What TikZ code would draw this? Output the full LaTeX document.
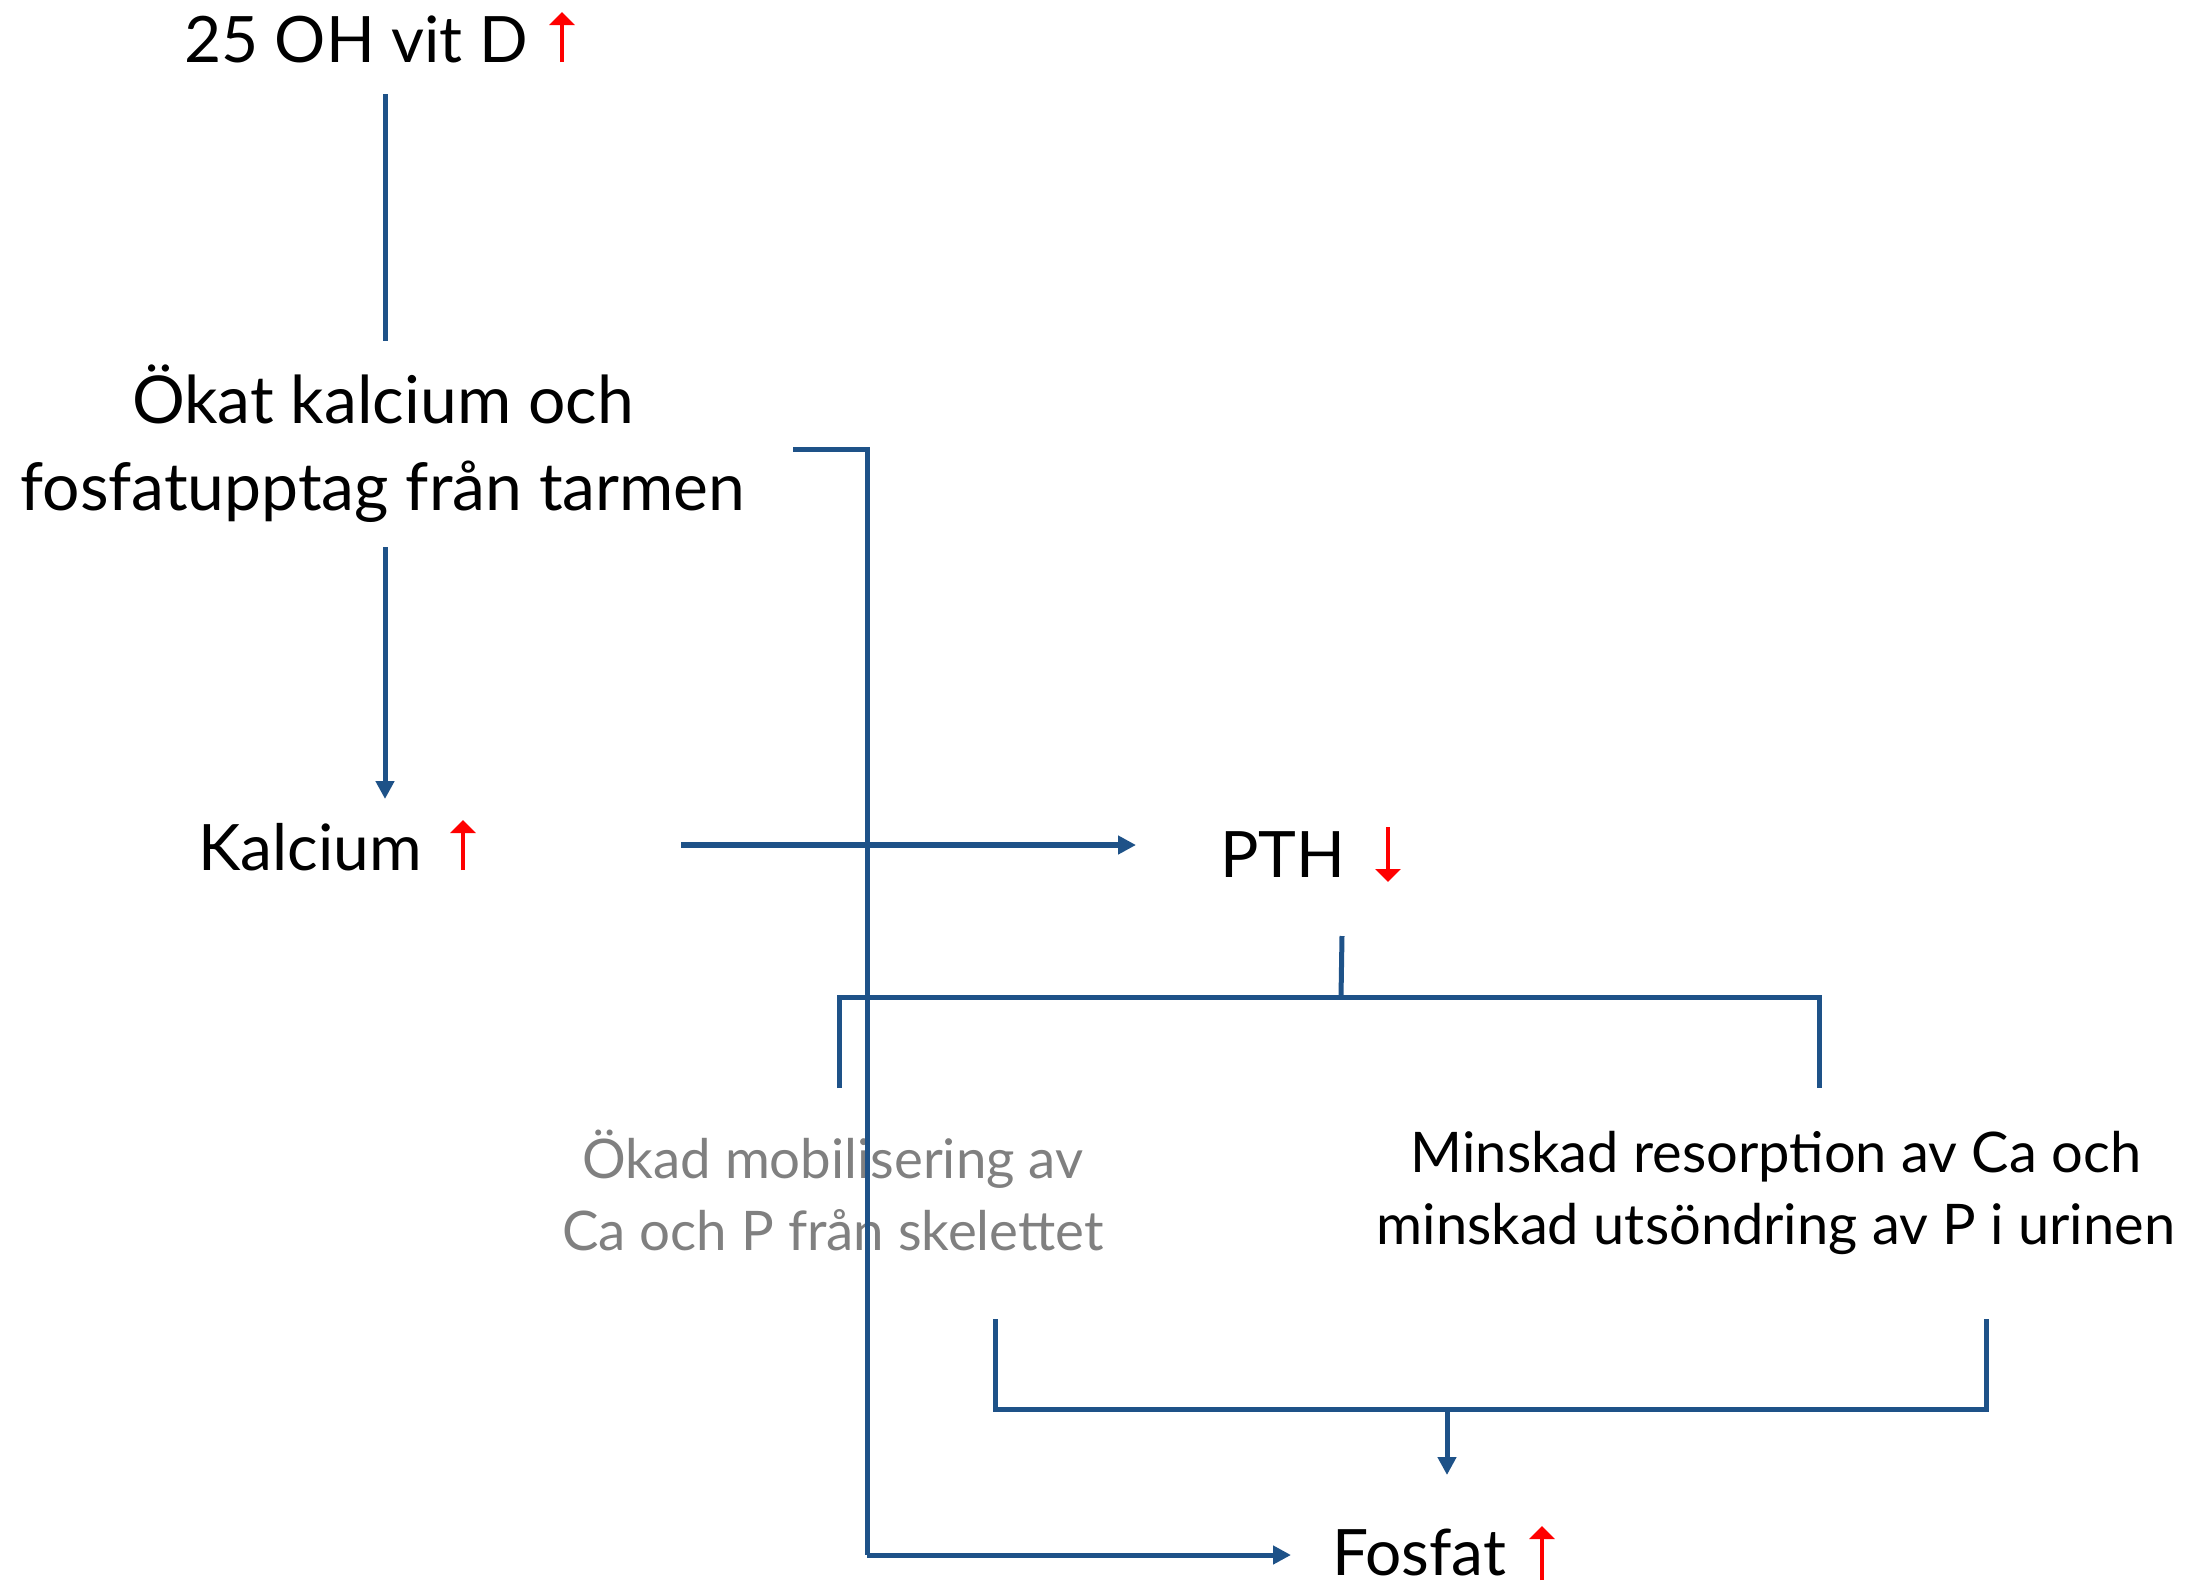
\documentclass[tikz,border=0pt]{standalone}
\usepackage{fontspec}
\setmainfont{Lato}
\usetikzlibrary{arrows.meta}
\definecolor{lineblue}{RGB}{30,82,136}
\definecolor{redarrow}{RGB}{255,0,0}
\definecolor{graytext}{RGB}{128,128,128}
\tikzset{
  conn/.style={draw=lineblue, line width=2.5pt},
  arr/.style={conn, -{Triangle[length=9pt,width=9pt]}},
  redarr/.style={draw=redarrow, line width=1.6pt, -{Triangle[length=6.5pt,width=12.5pt]}},
  lbl/.style={inner sep=0pt, font=\fontsize{32}{43.5}\selectfont},
  biglbl/.style={inner sep=0pt, align=center, font=\fontsize{33}{43.5}\selectfont},
  sublbl/.style={inner sep=0pt, align=center, font=\fontsize{28}{36}\selectfont},
  graylbl/.style={inner sep=0pt, align=center, text=graytext, font=\fontsize{27.3}{36}\selectfont}
}
\begin{document}
\begin{tikzpicture}[x=0.5pt,y=-0.5pt]
\useasboundingbox (0,0) rectangle (2201,1580);
% texts
\node[lbl, anchor=base] (vitd) at (356,62) {25 OH vit D};
\node[biglbl] (okat) at (383,444) {Ökat kalcium och\\fosfatupptag från tarmen};
\node[lbl, anchor=base] (kalc) at (310,870) {Kalcium};
\node[lbl, anchor=base] (pth) at (1283,877) {PTH};
\node[graylbl] (mobil) at (833,1190) {Ökad mobilisering av\\Ca och P från skelettet};
\node[sublbl] (minsk) at (1776,1193) {Minskad resorption av Ca och\\minskad utsöndring av P i urinen};
\node[lbl, anchor=base] (fosf) at (1419,1575) {Fosfat};
% red arrows
\coordinate (r1a) at (562,62); \coordinate (r1b) at (562,12);
\coordinate (r2a) at (463,870); \coordinate (r2b) at (463,820);
\coordinate (r3a) at (1388,827); \coordinate (r3b) at (1388,882);
\coordinate (r4a) at (1542,1580); \coordinate (r4b) at (1542,1526);
\draw[redarr] (r1a) -- (r1b);
\draw[redarr] (r2a) -- (r2b);
\draw[redarr] (r3a) -- (r3b);
\draw[redarr] (r4a) -- (r4b);
% connector points
\coordinate (a1) at (385,94); \coordinate (a2) at (385,341);
\coordinate (b1) at (385,547); \coordinate (b2) at (385,799);
\coordinate (h1) at (681,845); \coordinate (h2) at (1136,845);
\coordinate (k1) at (793,449); \coordinate (k2) at (867,449); \coordinate (k3) at (867,1555); \coordinate (k4) at (1291,1555);
\coordinate (p1) at (1342,936); \coordinate (p2) at (1341,997);
\coordinate (q1) at (839,997); \coordinate (q2) at (1819,997);
\coordinate (q3) at (839,1088); \coordinate (q4) at (1819,1088);
\coordinate (s1) at (995,1319); \coordinate (s2) at (995,1409);
\coordinate (s3) at (1986,1319); \coordinate (s4) at (1986,1409);
\coordinate (t1) at (1447,1409); \coordinate (t2) at (1447,1475);
% connectors
\draw[conn] (a1) -- (a2);
\draw[arr] (b1) -- (b2);
\draw[conn] (k1) -- (k2) -- (k3);
\draw[arr] (k3) -- (k4);
\draw[arr, line width=3pt] (h1) -- (h2);
\draw[conn] (p1) -- (p2);
\draw[conn] (q3) -- (q1) -- (q2) -- (q4);
\draw[conn] (s1) -- (s2) -- (s4) -- (s3);
\draw[arr] (t1) -- (t2);
\end{tikzpicture}
\end{document}
